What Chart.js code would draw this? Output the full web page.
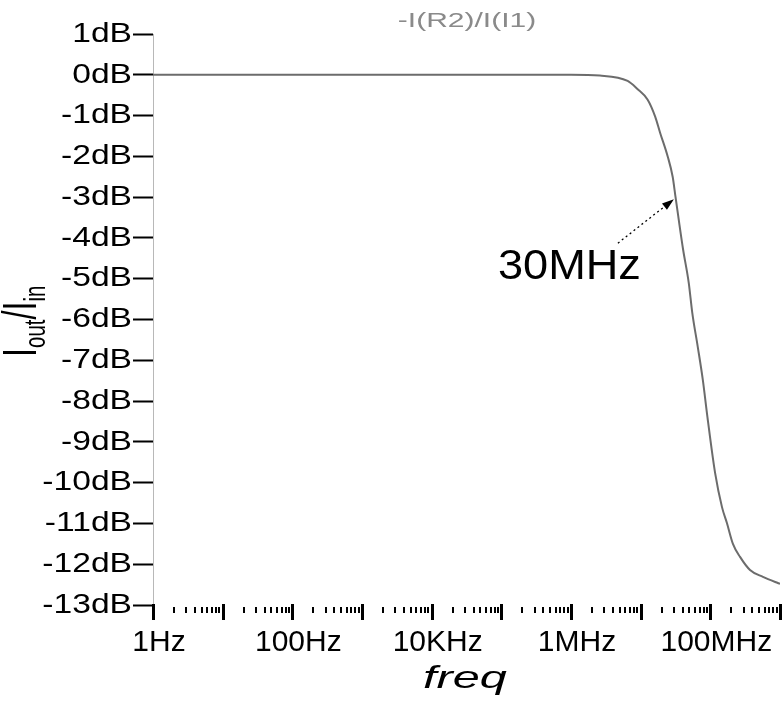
<!DOCTYPE html>
<html>
<head>
<meta charset="utf-8">
<script src="https://cdn.jsdelivr.net/npm/chart.js@4.4.0/dist/chart.umd.min.js"></script>
<style>
  html, body { margin: 0; padding: 0; background: #fff; }
  canvas { display: block; }
</style>
</head>
<body>
<canvas id="chart" width="784" height="702"></canvas>
<script>
// ----------------------------------------------------
//                 DATA
// ----------------------------------------------------
const freqHz = [1, 10, 100, 1e3, 1e4, 1e5, 1e6,
  2.6e6, 6.5e6, 8.9e6, 1.26e7, 1.62e7, 1.9e7, 2.45e7, 2.88e7, 3.16e7, 3.47e7,
  4.07e7, 4.9e7, 5.5e7, 6.6e7, 7.8e7, 9.1e7, 1.17e8, 1.47e8, 1.73e8, 2.11e8,
  2.67e8, 3.71e8, 5.69e8, 9.3e8, 1e9];
const gainDb = [0, 0, 0, 0, 0, 0, 0,
  -0.02, -0.15, -0.34, -0.61, -1.03, -1.42, -2.01, -2.5, -2.99, -3.48,
  -4.29, -5.1, -5.83, -6.67, -7.48, -8.4, -9.76, -10.6, -10.99, -11.5,
  -11.82, -12.14, -12.31, -12.46, -12.48];

const yTickValues = [1, 0, -1, -2, -3, -4, -5, -6, -7, -8, -9, -10, -11, -12, -13];
const xLabelValues = [1, 100, 1e4, 1e6, 1e8];
const xLabelText = ["1Hz", "100Hz", "10KHz", "1MHz", "100MHz"];

const chartTitle = "-I(R2)/I(I1)";
const xTitle = "freq";

// annotation : the -3dB point
const markFreq = 3e7;
const markDb = -3;
const markText = "30MHz";

// tick marks every 1..9 x 10^k
const xTickValues = [];
for (let k = 0; k < 9; k++) {
  for (let m = 1; m < 10; m++) xTickValues.push(m * 10 ** k);
}
xTickValues.push(1e9);

// ----------------------------------------------------
//                 DECORATIONS
// ----------------------------------------------------
const decor = {
  id: "decor",
  afterDraw(chart) {
    const { ctx, chartArea, scales: { x, y } } = chart;
    const y0 = chartArea.bottom;
    ctx.save();

    // x tick marks (no axis line in the original)
    ctx.fillStyle = "#000";
    xTickValues.forEach(v => {
      const px = Math.round(x.getPixelForValue(v));
      const lg = Math.log10(v);
      if (Math.abs(lg - Math.round(lg)) < 1e-9) {
        ctx.fillRect(px - 1, y0 - 1, 3, 16);
      } else {
        ctx.fillRect(px - 1, y0 + 2, 2, 6);
      }
    });

    // title
    ctx.fillStyle = "#8a8a8a";
    ctx.font = '20px "Liberation Sans"';
    ctx.textAlign = "center";
    ctx.textBaseline = "alphabetic";
    ctx.save();
    ctx.translate(467, 27);
    ctx.scale(1.5, 1);
    ctx.fillText(chartTitle, 0, 0);
    ctx.restore();

    // x title
    ctx.fillStyle = "#000";
    ctx.font = 'italic 32px "Liberation Sans"';
    ctx.save();
    ctx.translate(465, 688);
    ctx.scale(1.52, 1);
    ctx.fillText(xTitle, 0, 0);
    ctx.restore();

    // y title I_out / I_in
    ctx.save();
    ctx.translate(36, 357);
    ctx.rotate(-Math.PI / 2);
    ctx.scale(0.68, 1);
    ctx.textAlign = "left";
    let cx = 0;
    [["I", 48, 0], ["out", 30, 9], ["/", 48, 0], ["I", 48, 0], ["in", 30, 9]].forEach(([t, s, dy]) => {
      ctx.font = s + 'px "Liberation Sans"';
      ctx.fillText(t, cx, dy);
      cx += ctx.measureText(t).width;
    });
    ctx.restore();

    // annotation arrow
    const tx = x.getPixelForValue(markFreq);
    const ty = y.getPixelForValue(markDb) + 2;
    const sx = tx - 56, sy = ty + 44;
    const ang = Math.atan2(ty - sy, tx - sx);
    const hx = tx - 12 * Math.cos(ang), hy = ty - 12 * Math.sin(ang);
    ctx.strokeStyle = "#000";
    ctx.lineWidth = 1.3;
    ctx.setLineDash([2, 3]);
    ctx.beginPath();
    ctx.moveTo(sx, sy);
    ctx.lineTo(hx, hy);
    ctx.stroke();
    ctx.setLineDash([]);
    ctx.beginPath();
    ctx.moveTo(tx, ty);
    ctx.lineTo(hx + 4 * Math.sin(ang), hy - 4 * Math.cos(ang));
    ctx.lineTo(hx - 4 * Math.sin(ang), hy + 4 * Math.cos(ang));
    ctx.closePath();
    ctx.fill();

    ctx.font = '43px "Liberation Sans"';
    ctx.textAlign = "left";
    ctx.save();
    ctx.translate(tx - 176, ty + 80);
    ctx.scale(1.05, 1);
    ctx.fillText(markText, 0, 0);
    ctx.restore();

    ctx.restore();
  }
};

// ----------------------------------------------------
//                 CHART
// ----------------------------------------------------
new Chart(document.getElementById("chart"), {
  type: "line",
  data: {
    datasets: [{
      data: freqHz.map((f, i) => ({ x: f, y: gainDb[i] })),
      borderColor: "#6c6c6c",
      borderWidth: 2,
      pointRadius: 0,
      cubicInterpolationMode: "monotone",
      fill: false
    }]
  },
  options: {
    responsive: false,
    animation: false,
    layout: { padding: { top: 34, right: 4, left: 0, bottom: 0 } },
    plugins: {
      legend: { display: false },
      tooltip: { enabled: false }
    },
    scales: {
      x: {
        type: "logarithmic",
        min: 1,
        max: 1e9,
        afterBuildTicks: s => { s.ticks = xTickValues.map(v => ({ value: v })); },
        afterFit: s => {
          s.height = 97;
          s.paddingLeft = 0;
          s.paddingRight = 0;
        },
        grid: { display: false },
        border: { display: false },
        ticks: {
          autoSkip: false,
          maxRotation: 0,
          padding: 12,
          labelOffset: 6,
          color: "#000",
          font: { family: "Liberation Sans", size: 30 },
          callback: v => {
            const i = xLabelValues.indexOf(v);
            return i < 0 ? "" : xLabelText[i];
          }
        }
      },
      y: {
        min: -13,
        max: 1,
        afterBuildTicks: s => { s.ticks = yTickValues.map(v => ({ value: v })); },
        afterFit: s => {
          s.width = 153;
          s.paddingTop = 0;
          s.paddingBottom = 0;
          if (!s._wide) {
            // labels in the original are drawn wide
            s._wide = true;
            const draw = s.drawLabels;
            s.drawLabels = function (area) {
              const c = this.ctx;
              c.save();
              c.translate(132, 0);
              c.scale(1.2, 1);
              c.translate(-132, 0);
              draw.call(this, area);
              c.restore();
            };
          }
        },
        grid: { drawOnChartArea: false, tickLength: 20, tickWidth: 2, tickColor: "#000" },
        border: { color: "#b8b8b8", width: 1 },
        ticks: {
          padding: 1,
          color: "#000",
          font: { family: "Liberation Sans", size: 28 },
          callback: v => v + "dB"
        }
      }
    }
  },
  plugins: [decor]
});
</script>
</body>
</html>
